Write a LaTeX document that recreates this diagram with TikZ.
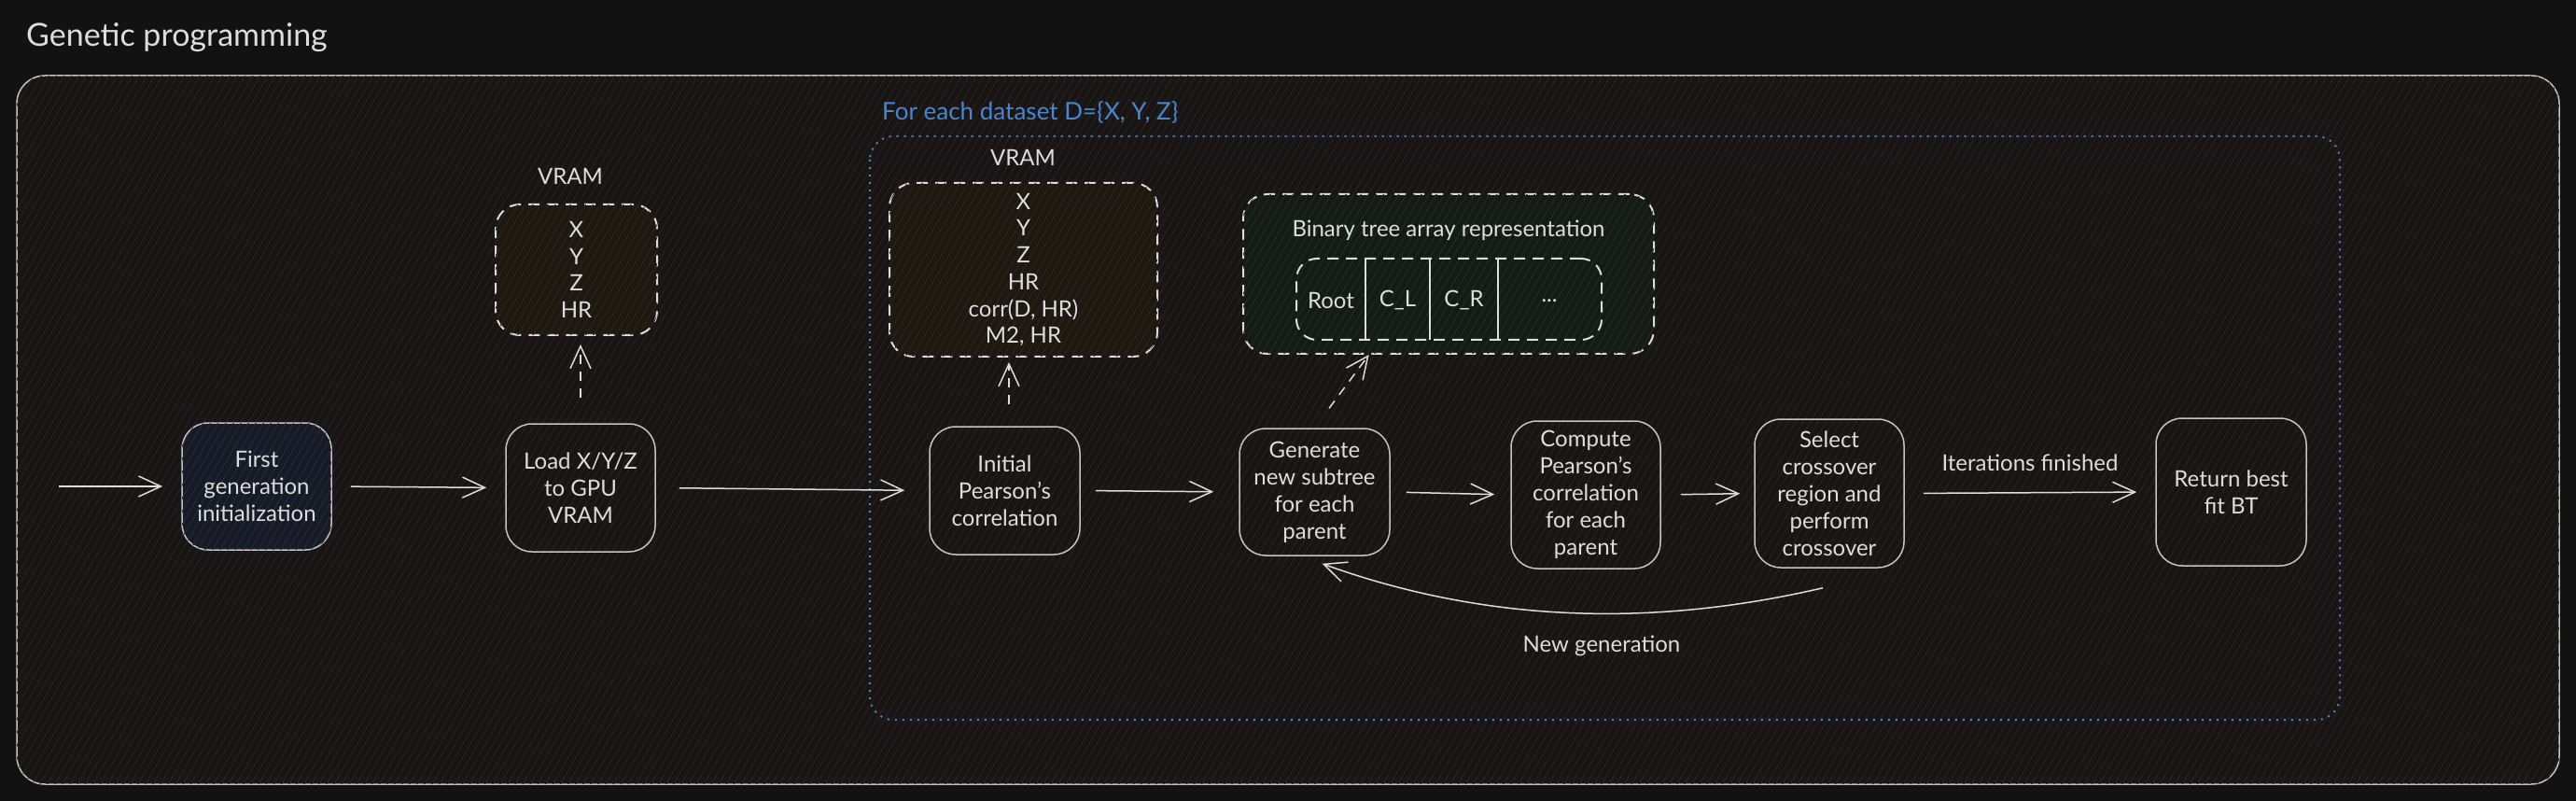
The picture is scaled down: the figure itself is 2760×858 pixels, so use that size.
\documentclass[tikz,border=0pt]{standalone}
\usepackage{fontspec}
\setmainfont{Lato}
\usetikzlibrary{arrows.meta,calc,patterns.meta}
\definecolor{bg}{HTML}{121212}
\definecolor{framefill}{HTML}{181515}
\definecolor{hatchred}{HTML}{2A1E1E}
\definecolor{ink}{HTML}{DDDDDD}
\definecolor{edge}{HTML}{C4C4C4}
\definecolor{loopblue}{HTML}{4A86D0}
\definecolor{bluefill}{HTML}{181B24}
\definecolor{bluehatch}{HTML}{202941}
\definecolor{brownfill}{HTML}{1C1812}
\definecolor{brownhatch}{HTML}{2B2414}
\definecolor{greenfill}{HTML}{151A16}
\definecolor{greenhatch}{HTML}{1D2A20}
\tikzset{
  hatch/.style={postaction={pattern={Lines[angle=60,distance=7pt,line width=1.2pt]},pattern color=#1}},
  outerframe/.style={draw=edge,line width=1.5pt,rounded corners=30pt,fill=framefill,hatch=hatchred},
  loopframe/.style={draw=loopblue,line width=2pt,dash pattern=on 2pt off 6pt,rounded corners=25pt},
  box/.style={draw=edge,line width=1.5pt,rounded corners=28pt,align=center,text=ink,
    font=\fontsize{24}{29}\selectfont,inner sep=0pt,minimum width=160pt,minimum height=136pt},
  dbox/.style={draw=ink,line width=2pt,dash pattern=on 12pt off 8pt,rounded corners=26pt,
    align=center,text=ink,font=\fontsize{24}{28.7}\selectfont,inner sep=0pt},
  lbl/.style={text=ink,font=\fontsize{24}{29}\selectfont,inner sep=0pt},
  arr/.style={draw=ink,line width=1.5pt,-{Straight Barb[length=24pt,width=22pt]},shorten <=20pt,shorten >=20pt},
  darr/.style={draw=ink,line width=1.5pt,dash pattern=on 10pt off 8pt,-{Straight Barb[length=24pt,width=22pt]}},
}
\begin{document}
\begin{tikzpicture}[x=1pt,y=-1pt]
\useasboundingbox (0,0) rectangle (2760,858);
\fill[bg] (0,0) rectangle (2760,858);
\node[anchor=west,text=ink,font=\fontsize{34}{40}\selectfont,inner sep=0pt] (title) at (28,40) {Genetic programming};
\draw[outerframe] (18,81) rectangle (2742,840);
\draw[loopframe] (932,146) rectangle (2507,771);
\node[anchor=west,text=loopblue,font=\fontsize{26}{30}\selectfont,inner sep=0pt] (looplbl) at (945,120) {For each dataset D=\{X, Y, Z\}};

% main boxes
\node[box,fill=bluefill,hatch=bluehatch] (first) at (275,521) {First\\generation\\initialization};
\node[box,minimum height=137pt] (load) at (622,522.5) {Load X/Y/Z\\to GPU\\VRAM};
\node[box,minimum width=161pt,minimum height=137pt] (init) at (1076.5,525.5) {Initial\\Pearson's\\correlation};
\node[box,minimum width=161pt] (gen) at (1408.5,527) {Generate\\new subtree\\for each\\parent};
\node[box,minimum height=158pt] (comp) at (1699,530) {Compute\\Pearson's\\correlation\\for each\\parent};
\node[box,minimum height=159pt] (sel) at (1960,528.5) {Select\\crossover\\region and\\perform\\crossover};
\node[box,minimum width=161pt,minimum height=158pt] (ret) at (2390.5,527) {Return best\\fit BT};

% VRAM boxes
\node[lbl] (vram1lbl) at (611,189) {VRAM};
\node[dbox,fill=brownfill,hatch=brownhatch,minimum width=173pt,minimum height=140pt] (vram1) at (617.5,289) {X\\Y\\Z\\HR};
\node[lbl] (vram2lbl) at (1096,169) {VRAM};
\node[dbox,fill=brownfill,hatch=brownhatch,minimum width=287pt,minimum height=186pt] (vram2) at (1096.5,289) {X\\Y\\Z\\HR\\corr(D, HR)\\M2, HR};

% binary tree box
\node[dbox,fill=greenfill,hatch=greenhatch,minimum width=440pt,minimum height=171pt] (bt) at (1552,293.5) {};
\node[lbl] (bttitle) at (1552,247) {Binary tree array representation};
\node[dbox,minimum width=327pt,minimum height=87pt,rounded corners=22pt] (bti) at (1552.5,320.5) {};
\foreach \xx in {1463,1532,1605} \draw[draw=ink,line width=1.5pt] (\xx,277) -- (\xx,364);
\node[lbl] (root) at (1426,322) {Root};
\node[lbl] (cl) at (1497.5,322) {C\_L};
\node[lbl] (cr) at (1568.5,322) {C\_R};
\node[lbl] (dots) at (1660,322) {...};

% connectors
\coordinate (entry) at (63,521);
\draw[arr,shorten <=0pt] (entry) -- (first.west);
\draw[arr] (first.east) -- (load.west);
\draw[arr,shorten <=25pt,shorten >=26pt] (load.east) -- (init.west);
\draw[arr,shorten <=16pt,shorten >=27pt] (init.east) -- (gen.west);
\draw[arr,shorten <=17pt,shorten >=17pt] (gen.east) -- (comp.west);
\draw[arr,shorten <=21pt,shorten >=15pt] (comp.east) -- (sel.west);
\draw[arr] (sel.east) -- node[lbl,above=22pt] (iterlbl) {Iterations finished} (ret.west);
\draw[darr,shorten <=27pt,shorten >=9pt] (load.north) -- (load.north |- vram1.south);
\draw[darr,shorten <=23pt,shorten >=5pt] (init.north) ++(4.5,0) coordinate (initup) -- (initup |- vram2.south);
\draw[darr,shorten <=26pt,shorten >=0pt] (gen.north) -- ($(bt.south west)!0.307!(bt.south east)$);
\draw[arr,shorten <=0pt,shorten >=0pt] ($(sel.south)+(-7,21)$) .. controls (1780,670) and (1600,670) .. ($(gen.south)+(8,8)$);
\node[lbl] (newgen) at (1716,692) {New generation};
\end{tikzpicture}
\end{document}
